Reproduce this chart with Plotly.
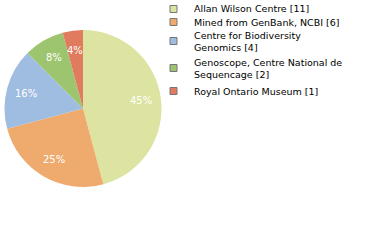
import math
import plotly.graph_objects as go

labels = ["Allan Wilson Centre [11]", "Mined from GenBank, NCBI [6]",
          "Centre for Biodiversity<br>Genomics [4]",
          "Genoscope, Centre National de<br>Sequencage [2]",
          "Royal Ontario Museum [1]"]
values = [11, 6, 4, 2, 1]
colors = ["#dde3a0", "#efaa6e", "#9fbce1", "#9dc56f", "#e07b5e"]

total = sum(values)
pct_text = [f"{int(100 * v / total)}%" for v in values]

W, H = 380, 240
FONT = "DejaVu Sans"
px0, px1, py0, py1 = 4, 162, 30, 187   # pie domain in pixels (top-left origin)

fig = go.Figure()
fig.add_trace(go.Pie(
    values=values, labels=labels,
    textinfo="none",
    marker=dict(colors=colors, line=dict(width=0)),
    sort=False, direction="clockwise", rotation=0,
    showlegend=False, hoverinfo="skip",
    domain=dict(x=[px0 / W, px1 / W], y=[1 - py1 / H, 1 - py0 / H]),
))

annotations = []
# percentage labels at 0.75 of the radius, at each slice's middle angle
cx, cy = (px0 + px1) / 2, (py0 + py1) / 2
R = min(px1 - px0, py1 - py0) / 2
cum = 0
for v, t in zip(values, pct_text):
    mid = (cum + v / 2) / total * 2 * math.pi
    cum += v
    x = cx + 0.75 * R * math.sin(mid)
    y = cy - 0.75 * R * math.cos(mid)
    annotations.append(dict(xref="paper", yref="paper", x=x / W, y=1 - y / H,
                            xanchor="center", yanchor="middle", showarrow=False,
                            text=t, font=dict(size=10, color="white", family=FONT)))

# manual legend
row_text_y = [9, 22, 41, 68, 91]
shapes = []
for i, (lab, col) in enumerate(zip(labels, colors)):
    ry = row_text_y[i]
    shapes.append(dict(type="rect", xref="paper", yref="paper",
                       x0=170 / W, x1=177 / W,
                       y0=1 - (ry + 3.5) / H, y1=1 - (ry - 3.5) / H,
                       fillcolor=col, line=dict(color="#777777", width=1)))
    annotations.append(dict(xref="paper", yref="paper", x=192 / W, y=1 - ry / H,
                            xanchor="left", yanchor="middle", showarrow=False,
                            text=lab, align="left",
                            font=dict(size=9.5, color="#000000", family=FONT)))

fig.update_layout(width=W, height=H, margin=dict(l=0, r=0, t=0, b=0),
                  paper_bgcolor="white", plot_bgcolor="white",
                  shapes=shapes, annotations=annotations)
fig.write_html("out.html")
